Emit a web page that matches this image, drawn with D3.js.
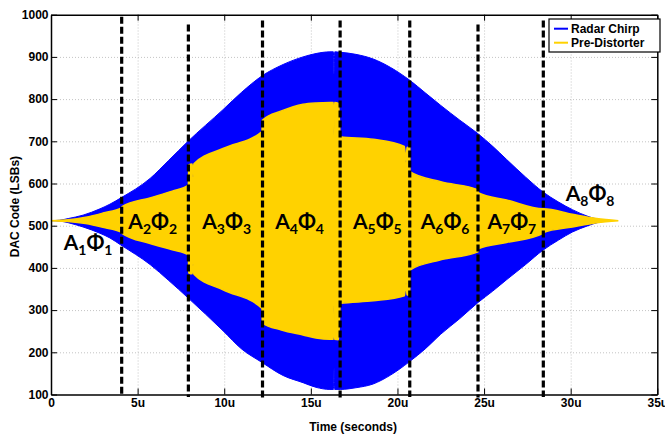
<!DOCTYPE html>
<html>
<head>
<meta charset="utf-8">
<script src="https://cdn.jsdelivr.net/npm/d3@7"></script>
<style>
  body { margin: 0; background: #fff; }
  svg { display: block; }
  .axis text { font-family: "Liberation Sans", Arial, sans-serif; font-weight: bold; font-size: 12px; fill: #000; }
  .axis path, .axis line { stroke: #000; }
  .axis path { stroke-width: 1.5; }
  .grid line { stroke: #c4c4c4; stroke-dasharray: 1,2; }
  .grid path { display: none; }
</style>
</head>
<body>
<svg id="graph" width="665" height="435"></svg>
<script>
// Time in microseconds, DAC codes in LSBs

// Radar chirp envelope
const chirpTime  = [0, 0.5, 1.0, 1.85, 2.83, 3.4, 4.04, 5.72, 6.8, 7.91, 9.93, 11.0, 12.18, 13.4, 14.55, 15.3, 16.1, 16.3, 16.34, 16.38, 16.7, 17.6, 18.6, 19.6, 20.7, 21.6, 22.5, 23.6, 24.65, 25.5, 26.3, 27.4, 28.4, 29.3, 30.1, 31.0, 31.6, 32.1];
const chirpUpper = [512, 513, 517, 525, 540, 551, 566, 612, 655, 700, 775, 816, 855, 882, 900, 908, 912, 912, 860, 912, 911, 906, 895, 875, 845, 815, 785, 750, 718, 688, 657, 615, 580, 556, 538, 522, 515, 512];
const chirpLower = [512, 511, 507, 497, 482, 471, 454, 408, 370, 329, 251, 208, 176, 145, 128, 117, 112, 112, 162, 112, 112, 116, 125, 146, 178, 208, 243, 280, 318, 345, 372, 408, 442, 466, 485, 500, 508, 512];

// Pre-distorter envelope (piecewise, one segment per A/phi pair)
const preTime  = [0, 1.0, 2.0, 3.0, 4.08,
                  4.1, 5.72, 7.0, 7.93,
                  7.95, 8.15, 8.2, 8.25, 9.93, 12.18,
                  12.2, 13.3, 14.55, 15.3, 16.1, 16.3, 16.33, 16.37, 16.6,
                  16.7, 18.6, 20.4, 20.5, 20.55, 20.71,
                  20.72, 22.5, 24.65,
                  24.66, 26.3, 28.42,
                  28.43, 30.1, 31.5, 32.75];
const preUpper = [512, 514, 520, 530, 543,
                  545, 566, 582, 596,
                  644, 646, 615, 647, 683, 723,
                  750, 772, 788, 791, 792, 792, 715, 792, 790,
                  711, 705, 688, 650, 686, 685,
                  628, 604, 585,
                  578, 561, 540,
                  540, 527, 517, 512];
const preLower = [512, 510, 505, 496, 484,
                  482, 458, 443, 431,
                  388, 386, 410, 385, 348, 304,
                  269, 253, 241, 234, 231, 231, 310, 231, 230,
                  316, 322, 334, 365, 336, 336,
                  395, 419, 438,
                  445, 460, 482,
                  484, 497, 507, 512];

// Segment boundaries (dashed lines)
const boundaryTime   = [4.08, 7.93, 12.21, 16.69, 20.71, 24.65, 28.42];
const boundaryTop    = [995, 977, 986, 986, 986, 977, 986];
const boundaryBottom = [97, 94, 93, 93, 94, 93, 94];

// Segment labels
const labelIndex = [1, 2, 3, 4, 5, 6, 7, 8];
const labelTime  = [2.14, 5.87, 10.14, 14.35, 18.84, 22.75, 26.6, 31.12];
const labelValue = [442, 492, 492, 492, 492, 492, 492, 558];

// Axis ticks
const xTicks = [0, 5, 10, 15, 20, 25, 30, 35];
const yTicks = [100, 200, 300, 400, 500, 600, 700, 800, 900, 1000];

const series = [
  { name: 'Radar Chirp', color: '#0000ff' },
  { name: 'Pre-Distorter', color: '#ffd200' }
];

const svg = d3.select('#graph'),
  margin = { top: 14.7, right: 7.7, bottom: 40.5, left: 51 },
  width = svg.attr('width') - margin.left - margin.right,
  height = svg.attr('height') - margin.top - margin.bottom;

const x = d3.scaleLinear().domain([0, 35]).range([0, width]);
const y = d3.scaleLinear().domain([100, 1000]).range([height, 0]);

const g = svg.append('g')
  .attr('transform', `translate(${margin.left},${margin.top})`);

// Grid lines
g.append('g')
  .attr('class', 'grid')
  .attr('transform', `translate(0,${height})`)
  .call(d3.axisBottom(x).tickValues(xTicks.slice(1, -1)).tickSize(-height).tickFormat(''));
g.append('g')
  .attr('class', 'grid')
  .call(d3.axisLeft(y).tickValues(yTicks.slice(1, -1)).tickSize(-width).tickFormat(''));

// Radar chirp area
const chirpArea = d3.area()
  .x(i => x(chirpTime[i]))
  .y0(i => y(chirpLower[i]))
  .y1(i => y(chirpUpper[i]))
  .curve(d3.curveMonotoneX);

g.append('path')
  .datum(d3.range(chirpTime.length))
  .attr('fill', series[0].color)
  .attr('stroke', series[0].color)
  .attr('stroke-width', 1)
  .attr('d', chirpArea);

// Pre-distorter area
const preArea = d3.area()
  .x(i => x(preTime[i]))
  .y0(i => y(preLower[i]))
  .y1(i => y(preUpper[i]))
  .curve(d3.curveMonotoneX);

g.append('path')
  .datum(d3.range(preTime.length))
  .attr('fill', series[1].color)
  .attr('stroke', series[1].color)
  .attr('stroke-width', 1.5)
  .attr('d', preArea);

// Dashed boundaries
g.selectAll('.boundary')
  .data(boundaryTime)
  .join('line')
  .attr('class', 'boundary')
  .attr('x1', d => x(d))
  .attr('x2', d => x(d))
  .attr('y1', (d, i) => y(boundaryTop[i]))
  .attr('y2', (d, i) => y(boundaryBottom[i]))
  .attr('stroke', '#000')
  .attr('stroke-width', 3.2)
  .attr('stroke-dasharray', '7,3');

// A_n Phi_n labels
const labels = g.selectAll('.seg-label')
  .data(labelIndex)
  .join('text')
  .attr('class', 'seg-label')
  .attr('x', (d, i) => x(labelTime[i]))
  .attr('y', (d, i) => y(labelValue[i]))
  .attr('text-anchor', 'middle')
  .style('font-family', 'Lato, "Open Sans", sans-serif')
  .style('font-weight', 'bold')
  .style('font-size', '21px')
  .style('fill', '#000');

labels.each(function(d) {
  const t = d3.select(this);
  t.append('tspan').text('A');
  t.append('tspan').attr('dy', 5).style('font-size', '14px').text(d);
  t.append('tspan').attr('dy', -5).text('Φ');
  t.append('tspan').attr('dy', 5).style('font-size', '14px').text(d);
});

// Axes with inward ticks, mirrored on top and right
g.append('g')
  .attr('class', 'axis')
  .attr('transform', `translate(0,${height})`)
  .call(d3.axisBottom(x).tickValues(xTicks).tickSizeInner(-6).tickSizeOuter(0).tickPadding(3.5)
    .tickFormat(d => d === 0 ? '0' : d + 'u'));
g.append('g')
  .attr('class', 'axis')
  .call(d3.axisTop(x).tickValues(xTicks).tickSizeInner(-6).tickSizeOuter(0).tickFormat(''));
g.append('g')
  .attr('class', 'axis')
  .call(d3.axisLeft(y).tickValues(yTicks).tickSizeInner(-6).tickSizeOuter(0).tickPadding(2.5)
    .tickFormat(d3.format('d')));
g.append('g')
  .attr('class', 'axis')
  .attr('transform', `translate(${width},0)`)
  .call(d3.axisRight(y).tickValues(yTicks).tickSizeInner(-6).tickSizeOuter(0).tickFormat(''));

// Axis titles
g.append('text')
  .attr('x', width / 2 - 1)
  .attr('y', height + 36.5)
  .attr('text-anchor', 'middle')
  .style('font-family', '"Liberation Sans", Arial, sans-serif')
  .style('font-weight', 'bold')
  .style('font-size', '12px')
  .text('Time (seconds)');

g.append('text')
  .attr('transform', `translate(${-32},${height / 2 + 2}) rotate(-90)`)
  .attr('text-anchor', 'middle')
  .style('font-family', '"Liberation Sans", Arial, sans-serif')
  .style('font-weight', 'bold')
  .style('font-size', '12px')
  .text('DAC Code (LSBs)');

// Legend
const legend = svg.append('g').attr('transform', 'translate(549,19)');
legend.append('rect')
  .attr('width', 111)
  .attr('height', 33)
  .attr('fill', '#fff')
  .attr('stroke', '#000')
  .attr('stroke-width', 1.2);

series.forEach((s, i) => {
  legend.append('line')
    .attr('x1', 5).attr('x2', 19)
    .attr('y1', 9.7 + i * 14).attr('y2', 9.7 + i * 14)
    .attr('stroke', s.color)
    .attr('stroke-width', 2);
  legend.append('text')
    .attr('x', 22)
    .attr('y', 14 + i * 14)
    .style('font-family', '"Liberation Sans", Arial, sans-serif')
    .style('font-weight', 'bold')
    .style('font-size', '12px')
    .text(s.name);
});
</script>
</body>
</html>
